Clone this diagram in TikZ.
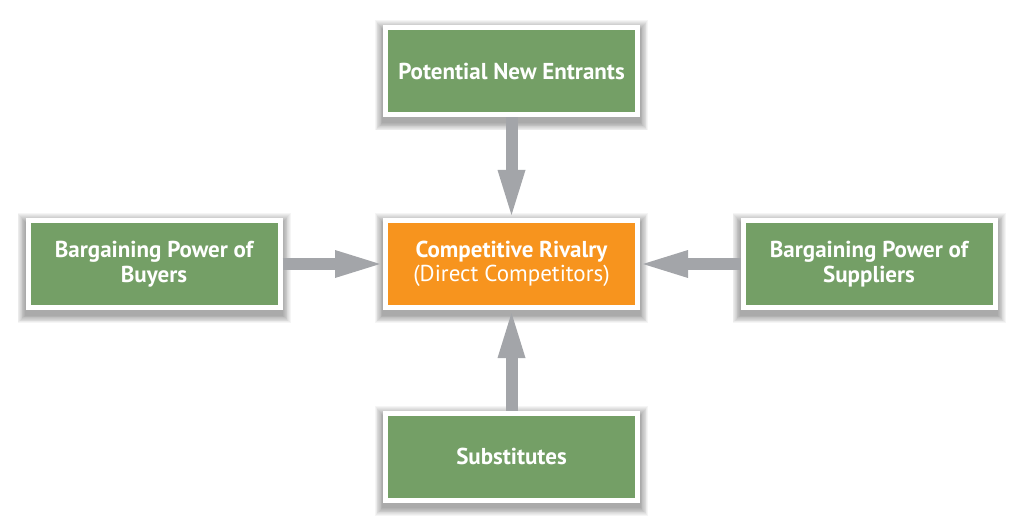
\documentclass[tikz,border=0pt]{standalone}
\usepackage{fontspec}
\setmainfont{PT Sans}
\usetikzlibrary{arrows.meta}
\pgfdeclarelayer{bg}
\pgfsetlayers{bg,main}
\definecolor{boxgreen}{RGB}{116,159,102}
\definecolor{boxorange}{RGB}{247,148,30}
\definecolor{arrowgray}{RGB}{163,165,169}
\tikzset{
  force/.style={draw=white, line width=5pt, fill=boxgreen, minimum width=252pt,
    minimum height=87pt, inner sep=0pt, text=white,
    font=\fontsize{23}{24.5}\selectfont\bfseries, align=center},
  rivalry/.style={force, fill=boxorange},
  push/.style={draw=arrowgray, line width=12pt,
    -{Triangle[width=28pt,length=45pt,line width=0pt]}, shorten >=3pt},
  boxshadow/.style={fill=black, opacity=0.04},
}
\begin{document}
\begin{tikzpicture}[x=1pt,y=-1pt]
\useasboundingbox (0,0) rectangle (1024,529);
\node[force]   (entrants)  at (511.5,71.5) {Potential New Entrants};
\node[rivalry] (rivalry)   at (511.5,264)  {Competitive Rivalry\\\mdseries(Direct Competitors)};
\node[force]   (buyers)    at (154,264)    {Bargaining Power of\\Buyers};
\node[force]   (suppliers) at (869,264)    {Bargaining Power of\\Suppliers};
\node[force]   (subs)      at (511.5,456.5) {Substitutes};
\begin{pgfonlayer}{bg}
\foreach \n in {entrants,rivalry,buyers,suppliers,subs}{
  \foreach \i in {1,...,10}{
    \fill[boxshadow] ([shift={(-0.8*\i,5-\i)}]\n.north west) rectangle ([shift={(0.8*\i,5+0.8*\i)}]\n.south east);
  }
}
\end{pgfonlayer}
\draw[push] (entrants) -- (rivalry);
\draw[push] (subs) -- (rivalry);
\draw[push] (buyers) -- (rivalry);
\draw[push] (suppliers) -- (rivalry);
\end{tikzpicture}
\end{document}
